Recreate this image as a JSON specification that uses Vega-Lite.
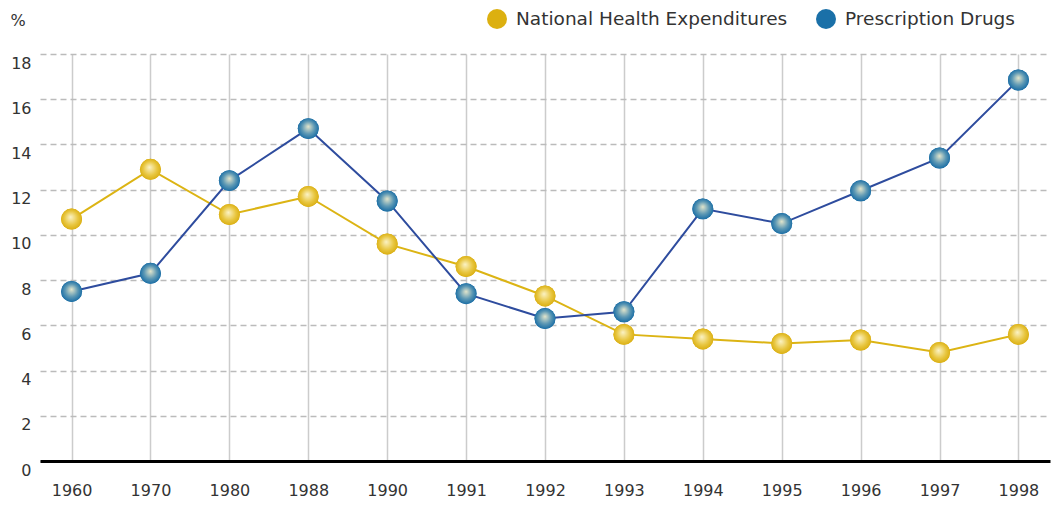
{
  "$schema": "https://vega.github.io/schema/vega-lite/v6.json",
  "width": 1010,
  "height": 407,
  "autosize": "none",
  "padding": {"left": 40, "top": 54, "right": 4, "bottom": 45},
  "background": "white",
  "config": {
    "view": {"stroke": null},
    "font": "DejaVu Sans",
    "axis": {"labelFont": "DejaVu Sans", "titleFont": "DejaVu Sans"},
    "legend": {"labelFont": "DejaVu Sans"}
  },
  "data": {
    "values": [
      {"year": "1960", "series": "National Health Expenditures", "value": 10.7},
      {"year": "1970", "series": "National Health Expenditures", "value": 12.9},
      {"year": "1980", "series": "National Health Expenditures", "value": 10.9},
      {"year": "1988", "series": "National Health Expenditures", "value": 11.7},
      {"year": "1990", "series": "National Health Expenditures", "value": 9.6},
      {"year": "1991", "series": "National Health Expenditures", "value": 8.6},
      {"year": "1992", "series": "National Health Expenditures", "value": 7.3},
      {"year": "1993", "series": "National Health Expenditures", "value": 5.6},
      {"year": "1994", "series": "National Health Expenditures", "value": 5.4},
      {"year": "1995", "series": "National Health Expenditures", "value": 5.2},
      {"year": "1996", "series": "National Health Expenditures", "value": 5.35},
      {"year": "1997", "series": "National Health Expenditures", "value": 4.8},
      {"year": "1998", "series": "National Health Expenditures", "value": 5.6},
      {"year": "1960", "series": "Prescription Drugs", "value": 7.5},
      {"year": "1970", "series": "Prescription Drugs", "value": 8.3},
      {"year": "1980", "series": "Prescription Drugs", "value": 12.4},
      {"year": "1988", "series": "Prescription Drugs", "value": 14.7},
      {"year": "1990", "series": "Prescription Drugs", "value": 11.5},
      {"year": "1991", "series": "Prescription Drugs", "value": 7.4},
      {"year": "1992", "series": "Prescription Drugs", "value": 6.3},
      {"year": "1993", "series": "Prescription Drugs", "value": 6.6},
      {"year": "1994", "series": "Prescription Drugs", "value": 11.15},
      {"year": "1995", "series": "Prescription Drugs", "value": 10.5},
      {"year": "1996", "series": "Prescription Drugs", "value": 11.95},
      {"year": "1997", "series": "Prescription Drugs", "value": 13.4},
      {"year": "1998", "series": "Prescription Drugs", "value": 16.85}
    ]
  },
  "encoding": {
    "x": {
      "field": "year", "type": "ordinal",
      "scale": {"type": "point", "padding": 0.4},
      "axis": {
        "title": null, "labelAngle": 0, "ticks": false,
        "domainColor": "#000", "domainWidth": 3,
        "grid": true, "gridColor": "#cccccc", "gridWidth": 1.5,
        "labelFontSize": 16, "labelColor": "#333", "labelPadding": 21
      }
    },
    "y": {
      "field": "value", "type": "quantitative",
      "scale": {"domain": [0, 18], "nice": false},
      "axis": {
        "values": [0, 2, 4, 6, 8, 10, 12, 14, 16, 18],
        "title": "%", "titleAngle": 0, "titleX": -30, "titleY": -26,
        "titleAlign": "left", "titleFontSize": 16, "titleFontWeight": "normal", "titleColor": "#333",
        "domain": false, "ticks": false,
        "grid": true, "gridColor": "#bbbbbb", "gridDash": [6, 4], "gridWidth": 1.5,
        "labelFontSize": 16, "labelColor": "#333", "labelPadding": 9, "labelOffset": 9
      }
    }
  },
  "layer": [
    {
      "mark": {"type": "line", "strokeWidth": 2},
      "encoding": {
        "stroke": {
          "field": "series", "type": "nominal",
          "scale": {"domain": ["National Health Expenditures", "Prescription Drugs"], "range": ["#dcb414", "#2e4c9e"]},
          "legend": {
            "title": null, "orient": "none", "direction": "horizontal",
            "legendX": 447, "legendY": -45,
            "symbolType": "circle", "symbolSize": 400, "symbolOpacity": 1, "symbolStrokeWidth": 0,
            "labelFontSize": 18.5, "labelColor": "#333", "labelLimit": 0,
            "columnPadding": 28, "labelOffset": 9
          }
        }
      }
    },
    {
      "mark": {"type": "point", "filled": true, "size": 440, "opacity": 1},
      "encoding": {
        "color": {
          "field": "series", "type": "nominal",
          "scale": {"domain": ["National Health Expenditures", "Prescription Drugs"], "range": ["#dcb010", "#1a70a8"]},
          "legend": {
            "title": null, "orient": "none", "direction": "horizontal",
            "legendX": 447, "legendY": -45,
            "symbolType": "circle", "symbolSize": 400, "symbolOpacity": 1, "symbolStrokeWidth": 0,
            "labelFontSize": 18.5, "labelColor": "#333", "labelLimit": 0,
            "columnPadding": 28, "labelOffset": 9
          }
        }
      }
    },
    {
      "transform": [{"filter": "datum.series === 'National Health Expenditures'"}],
      "mark": {
        "type": "point", "size": 440, "strokeWidth": 0, "opacity": 1,
        "fill": {"gradient": "radial", "x1": 0.45, "y1": 0.4, "r1": 0, "x2": 0.5, "y2": 0.5, "r2": 0.55,
          "stops": [{"offset": 0, "color": "#fbf3c6"}, {"offset": 0.6, "color": "#e8c640"}, {"offset": 1, "color": "#d8ab0a"}]}
      }
    },
    {
      "transform": [{"filter": "datum.series === 'Prescription Drugs'"}],
      "mark": {
        "type": "point", "size": 440, "strokeWidth": 0, "opacity": 1,
        "fill": {"gradient": "radial", "x1": 0.5, "y1": 0.4, "r1": 0, "x2": 0.5, "y2": 0.5, "r2": 0.55,
          "stops": [{"offset": 0, "color": "#e4e6cc"}, {"offset": 0.55, "color": "#5c98b4"}, {"offset": 1, "color": "#0f66a2"}]}
      }
    }
  ]
}
